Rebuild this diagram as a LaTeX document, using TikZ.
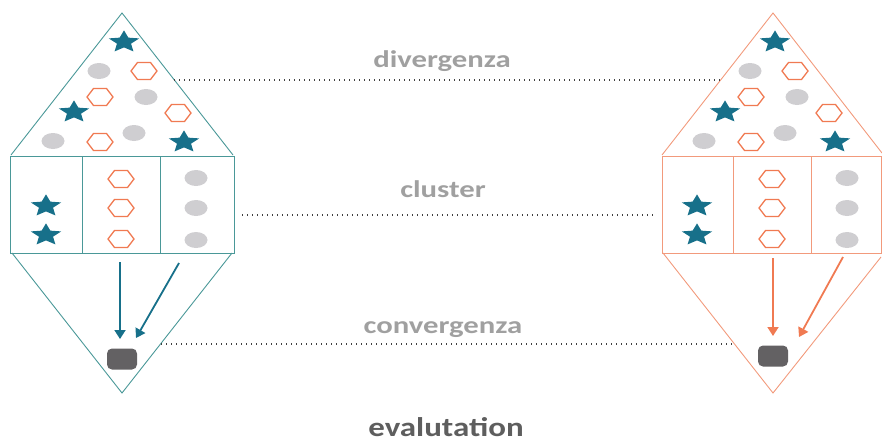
\documentclass[tikz,border=0pt]{standalone}
\usepackage{fontspec}
\setmainfont{Carlito}
\usetikzlibrary{arrows.meta}
\definecolor{starc}{HTML}{17708A}
\definecolor{tealline}{HTML}{4A9898}
\definecolor{orangec}{HTML}{F07A52}
\definecolor{orangeline}{HTML}{F29A7C}
\definecolor{ellc}{HTML}{CFCED1}
\definecolor{darkc}{HTML}{636163}
\definecolor{labelc}{HTML}{A0A0A0}
\definecolor{evalc}{HTML}{5E5E5E}
\newcommand\mystar[2]{%
  \fill[starc] (#1,#2) +(90:16pt and 11.6pt) -- +(126:7.4pt and 5.4pt)
   -- +(162:16pt and 11.6pt) -- +(198:7.4pt and 5.4pt)
   -- +(234:16pt and 11.6pt) -- +(270:7.4pt and 5.4pt)
   -- +(306:16pt and 11.6pt) -- +(342:7.4pt and 5.4pt)
   -- +(18:16pt and 11.6pt) -- +(54:7.4pt and 5.4pt) -- cycle;}
\newcommand\myhex[2]{%
  \draw[orangec,line width=1.3pt,line join=miter] (#1,#2) +(13,0) -- +(6.5,8.5) -- +(-6.5,8.5)
   -- +(-13,0) -- +(-6.5,-8.5) -- +(6.5,-8.5) -- cycle;}
\newcommand\myell[2]{%
  \fill[ellc] (#1,#2) ellipse [x radius=11.5pt, y radius=8pt];}
\newcommand\shapeset[1]{%
  \mystar{124+#1}{42}
  \myell{99+#1}{71}
  \myhex{144+#1}{71}
  \myhex{100+#1}{97}
  \myell{146+#1}{97}
  \mystar{74+#1}{112}
  \myhex{178+#1}{113}
  \myell{53+#1}{141}
  \myhex{100+#1}{142}
  \myell{134+#1}{133}
  \mystar{184+#1}{142}
  \mystar{46+#1}{206}
  \mystar{46+#1}{235}
  \myhex{121+#1}{179}
  \myhex{121+#1}{208}
  \myhex{121+#1}{239}
  \myell{196+#1}{178}
  \myell{196+#1}{208}
  \myell{196+#1}{240}}
\tikzset{
  outl/.style={line width=0.9pt},
  dotl/.style={line width=1.3pt, draw=black!75, dash pattern=on 1.3pt off 3.7pt},
  lbl/.style={anchor=base, text=labelc, font=\fontsize{24}{26}\selectfont\bfseries, inner sep=0pt},
  darkbox/.style={fill=darkc, rounded corners=5pt, minimum width=30pt, minimum height=21pt, inner sep=0pt},
  arr/.style={line width=1.8pt, -{Triangle[width=11pt,length=9pt]}}
}
\begin{document}
\begin{tikzpicture}[x=1pt,y=-1pt]
\useasboundingbox (0,0) rectangle (882,442);
% left diamond outline
\draw[outl,tealline] (11,155) -- (122,13) -- (233,155);
\draw[outl,tealline] (10,156) rectangle (234,253);
\draw[outl,tealline] (82,156) -- (82,253);
\draw[outl,tealline] (160,156) -- (160,253);
\draw[outl,tealline] (12,253) -- (122,393) -- (232,253);
% right diamond outline
\draw[outl,orangeline] (662,155) -- (773,13) -- (882,153);
\draw[outl,orangeline] (662,156) rectangle (881,253);
\draw[outl,orangeline] (733,156) -- (733,253);
\draw[outl,orangeline] (811,156) -- (811,253);
\draw[outl,orangeline] (663,253) -- (773,393) -- (881,257);
% shapes
\shapeset{0}
\shapeset{651}
% result boxes
\node[darkbox] (resL) at (122,359) {};
\node[darkbox] (resR) at (773,356) {};
% arrows
\coordinate (l1s) at (120,262); \coordinate (l1e) at (120,339);
\coordinate (l2s) at (179,263); \coordinate (l2e) at (136,338);
\coordinate (r1s) at (773,258); \coordinate (r1e) at (773,336);
\coordinate (r2s) at (843,257); \coordinate (r2e) at (799,337);
\draw[arr,starc] (l1s) -- (l1e);
\draw[arr,starc] (l2s) -- (l2e);
\draw[arr,orangec] (r1s) -- (r1e);
\draw[arr,orangec] (r2s) -- (r2e);
% dotted lines
\coordinate (d1a) at (174,80); \coordinate (d1b) at (720,80);
\coordinate (d2a) at (242,215); \coordinate (d2b) at (654,215);
\coordinate (d3a) at (161,344); \coordinate (d3b) at (732,344);
\draw[dotl] (d1a) -- (d1b);
\draw[dotl] (d2a) -- (d2b);
\draw[dotl] (d3a) -- (d3b);
% labels
\node[lbl] (tdiv) at (442,67) {\scalebox{1.28}[1]{divergenza}};
\node[lbl] (tclu) at (443,197) {\scalebox{1.28}[1]{cluster}};
\node[lbl] (tcon) at (443,333) {\scalebox{1.28}[1]{convergenza}};
\node[lbl, text=evalc, font=\fontsize{27}{30}\selectfont\bfseries] (teval) at (446,436) {\scalebox{1.22}[1]{evalutation}};
\end{tikzpicture}
\end{document}
